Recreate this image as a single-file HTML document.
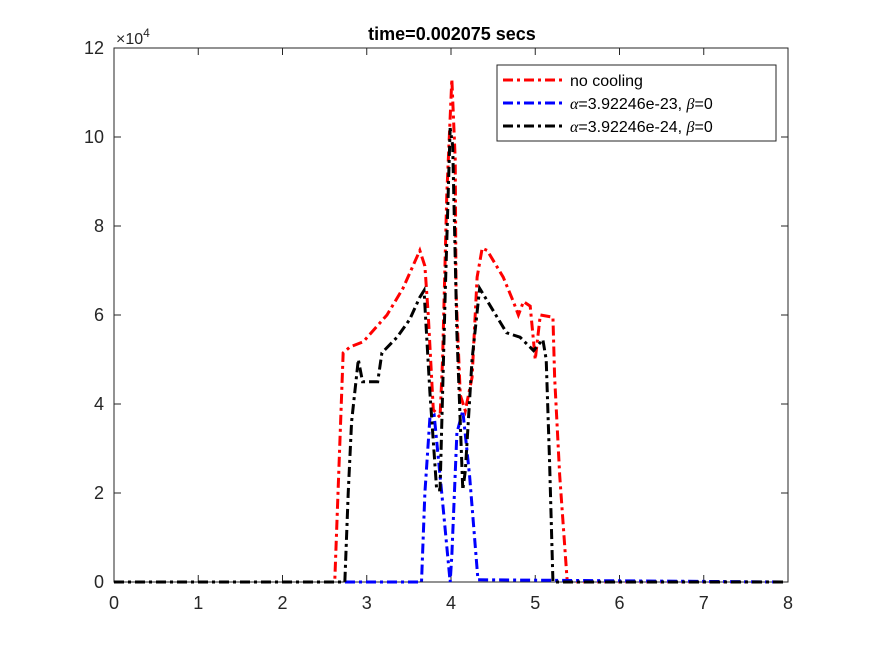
<!DOCTYPE html>
<html><head><meta charset="utf-8"><style>
body{margin:0;background:#fff;width:875px;height:656px;overflow:hidden}
svg text{font-family:"Liberation Sans",sans-serif;fill:#262626}
</style></head><body>
<svg id="chart" width="875" height="656" xmlns="http://www.w3.org/2000/svg">
<rect x="0" y="0" width="875" height="656" fill="#fff"/>
<rect x="114" y="48" width="674" height="534" fill="#fff" stroke="#262626" stroke-width="1"/>
<g id="ticks"></g>
<g id="series"></g>
<text x="452" y="40" font-size="18" font-weight="bold" text-anchor="middle" style="fill:#000">time=0.002075 secs</text>
<text x="116" y="44" font-size="16">×10<tspan font-size="12" dy="-7">4</tspan></text>
<g>
<rect x="497" y="65" width="279" height="76" fill="#fff" stroke="#262626"/>
<line x1="503" y1="80" x2="563" y2="80" stroke="#ff0000" stroke-width="3" stroke-dasharray="10,4,3,4"/>
<text x="570" y="86" font-size="16" style="fill:#000">no cooling</text>
<line x1="503" y1="103" x2="563" y2="103" stroke="#0000ff" stroke-width="3" stroke-dasharray="10,4,3,4"/>
<text x="570" y="109" font-size="16" style="fill:#000"><tspan font-family="Liberation Serif" font-style="italic">α</tspan>=3.92246e-23, <tspan font-family="Liberation Serif" font-style="italic">β</tspan>=0</text>
<line x1="503" y1="126" x2="563" y2="126" stroke="#000" stroke-width="3" stroke-dasharray="10,4,3,4"/>
<text x="570" y="132" font-size="16" style="fill:#000"><tspan font-family="Liberation Serif" font-style="italic">α</tspan>=3.92246e-24, <tspan font-family="Liberation Serif" font-style="italic">β</tspan>=0</text>
</g>
</svg>
<script>
const xTicks=[0,1,2,3,4,5,6,7,8];
const yTicks=[0,2,4,6,8,10,12];
const redX=[0,2.62,2.72,2.80,2.96,3.24,3.43,3.63,3.69,3.73,3.79,3.87,3.90,3.95,4.01,4.05,4.06,4.11,4.17,4.25,4.31,4.37,4.43,4.62,4.74,4.80,4.86,4.94,5.00,5.06,5.21,5.23,5.29,5.38,7.95];
const redY=[0,0,5.15,5.28,5.4,6.0,6.6,7.45,7.1,6.0,3.87,3.7,5.0,8.7,11.3,9.5,6.5,4.2,3.85,4.6,6.85,7.5,7.45,6.85,6.3,6.0,6.3,6.2,5.0,6.0,5.95,4.6,2.4,0,0];
const blueX=[0,3.65,3.69,3.75,3.80,3.89,3.99,4.01,4.07,4.14,4.22,4.32,7.95];
const blueY=[0,0,2.0,3.7,3.75,2.0,0,0.6,3.35,3.85,2.4,0.05,0];
const blackX=[0,2.74,2.78,2.82,2.90,2.95,3.13,3.18,3.36,3.51,3.63,3.68,3.75,3.83,3.87,3.93,3.99,4.02,4.07,4.14,4.17,4.25,4.34,4.50,4.66,4.82,4.98,5.09,5.13,5.17,5.21,7.95];
const blackY=[0,0,2.0,3.6,5.0,4.5,4.5,5.15,5.5,5.9,6.4,6.55,4.25,2.07,2.07,6.4,10.2,9.8,5.6,2.07,2.5,5.0,6.6,6.1,5.6,5.5,5.2,5.45,5.0,2.7,0,0];
const X=v=>114+v*84.25, Y=v=>582-v*44.5;
const NS="http://www.w3.org/2000/svg";
const tg=document.getElementById('ticks');
xTicks.forEach(t=>{
 const l=document.createElementNS(NS,'line');
 
 
 l.setAttribute('x1',X(t));l.setAttribute('x2',X(t));l.setAttribute('y1',582);l.setAttribute('y2',575);l.setAttribute('stroke','#262626');tg.appendChild(l);
 const l2=l.cloneNode();l2.setAttribute('y1',48);l2.setAttribute('y2',55);tg.appendChild(l2);
 const s=document.createElementNS(NS,'text');
 
 
 s.setAttribute('x',X(t));s.setAttribute('y',609);s.setAttribute('font-size','18');s.setAttribute('text-anchor','middle');s.textContent=t;tg.appendChild(s);
});
yTicks.forEach(t=>{
 const l=document.createElementNS(NS,'line');
 
 
 l.setAttribute('x1',114);l.setAttribute('x2',121);l.setAttribute('y1',Y(t));l.setAttribute('y2',Y(t));l.setAttribute('stroke','#262626');tg.appendChild(l);
 const l2=l.cloneNode();l2.setAttribute('x1',788);l2.setAttribute('x2',781);tg.appendChild(l2);
 const s=document.createElementNS(NS,'text');
 
 
 s.setAttribute('x',104);s.setAttribute('y',Y(t)+6);s.setAttribute('font-size','18');s.setAttribute('text-anchor','end');s.textContent=t;tg.appendChild(s);
});
const sg=document.getElementById('series');
function draw(xs,ys,c,name){
 const p=document.createElementNS(NS,'polyline');
 
 
 p.setAttribute('points',xs.map((x,i)=>X(x)+','+Y(ys[i])).join(' '));
 p.setAttribute('fill','none');p.setAttribute('stroke',c);p.setAttribute('stroke-width','3');
 p.setAttribute('stroke-dasharray','10,4,3,4');sg.appendChild(p);
}
draw(redX,redY,'#ff0000','series-no-cooling');
draw(blueX,blueY,'#0000ff','series-alpha-e23');
draw(blackX,blackY,'#000000','series-alpha-e24');
</script>
</body></html>
